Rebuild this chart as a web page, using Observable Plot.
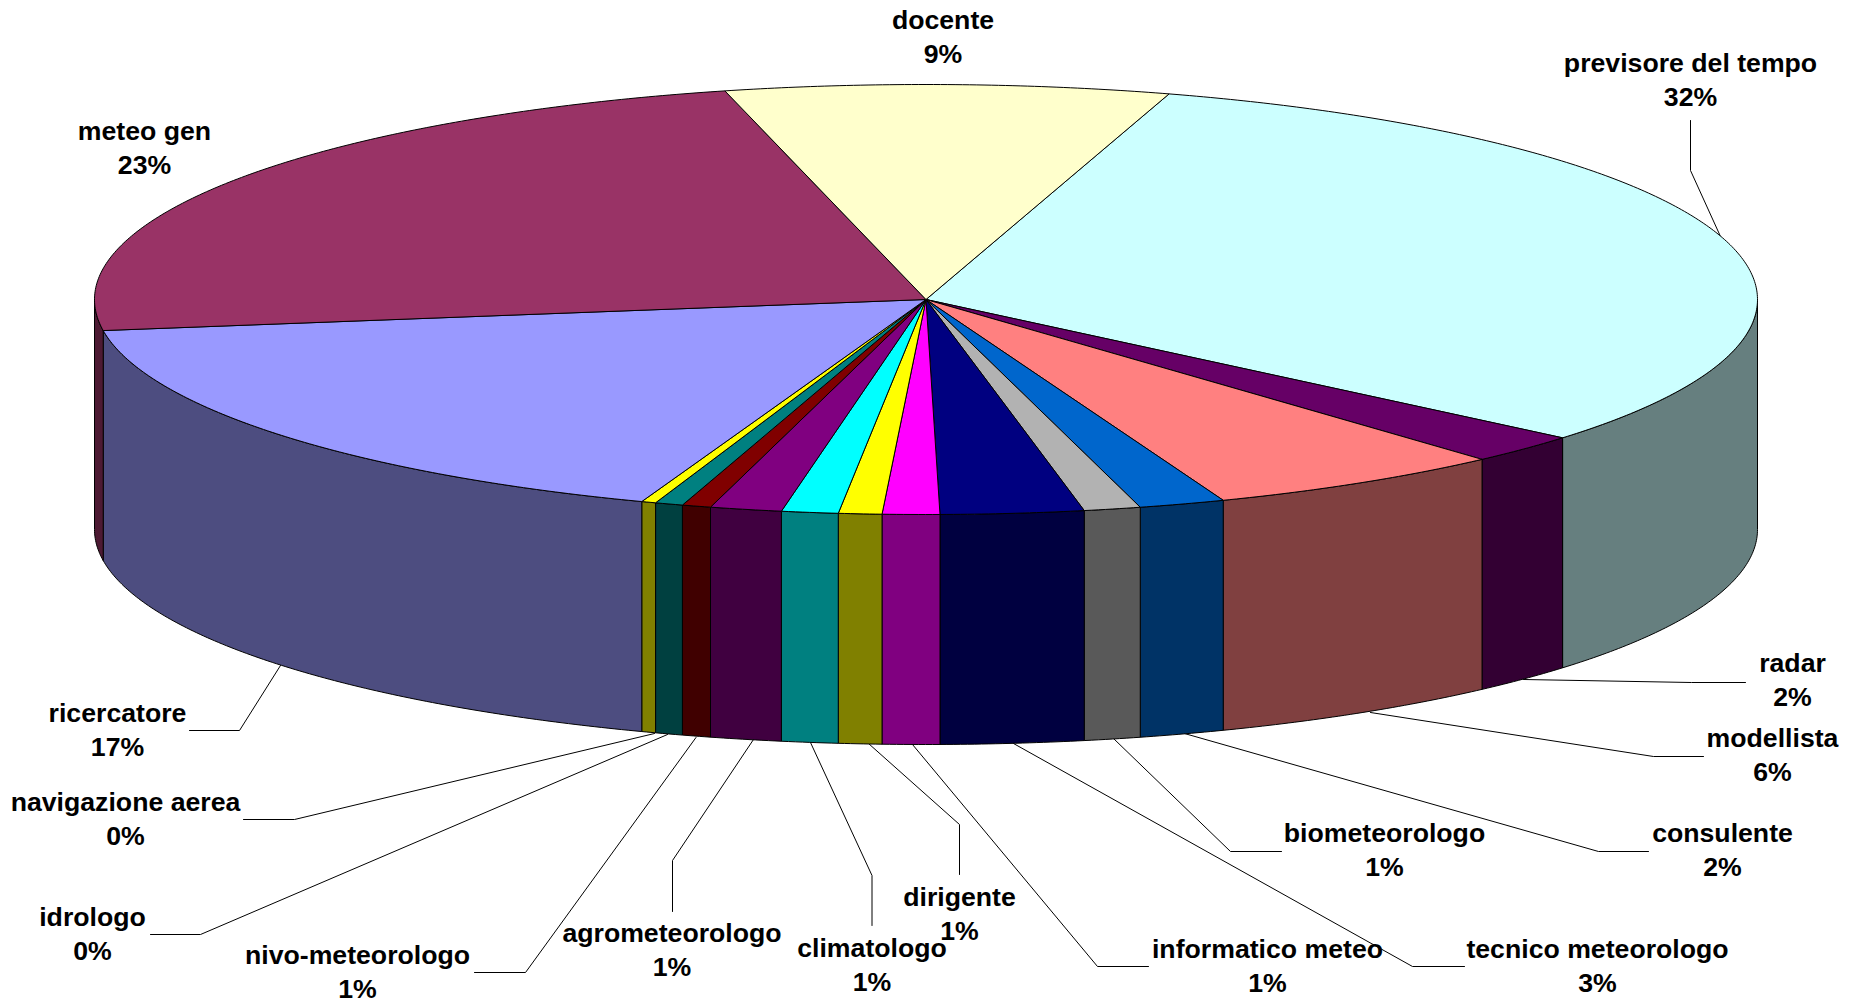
<!DOCTYPE html>
<html>
<head>
<meta charset="utf-8">
<script src="https://cdn.jsdelivr.net/npm/d3@7"></script>
<script src="https://cdn.jsdelivr.net/npm/@observablehq/plot@0.6"></script>
<style>
html,body{margin:0;padding:0;background:#fff;overflow:hidden}
svg{display:block}
</style>
</head>
<body>
<div id="chart"></div>
<script>
// Series, clockwise from the "docente" / "previsore" boundary
const names = ["previsore del tempo","radar","modellista","consulente","biometeorologo","tecnico meteorologo","informatico meteo","dirigente","climatologo","agrometeorologo","nivo-meteorologo","idrologo","navigazione aerea","ricercatore","meteo gen","docente"];
const shares = [31.40,2.22,5.84,1.67,1.10,2.78,1.11,0.84,1.10,1.39,0.56,0.54,0.28,17.14,23.42,8.61];
const printed = [32,2,6,2,1,3,1,1,1,1,1,0,0,17,23,9];
const topColors = ["#CCFFFF","#660066","#FF8080","#0066CC","#B2B2B2","#000080","#FF00FF","#FFFF00","#00FFFF","#800080","#800000","#008080","#FFFF00","#9999FF","#993366","#FFFFCC"];
const sideColors = ["#667F7F","#330033","#804040","#003366","#595959","#000040","#800080","#808000","#008080","#400040","#400000","#004040","#808000","#4D4D80","#4D1A33","#80805F"];

// Pie geometry (in the page's coordinate system)
const W = 1854, H = 1001;
const pie = {cx: 925.5, cy: 299, rx: 831.5, ry: 215, depth: 230, start: 17};

// Label placement: centre of each two-line label, and its leader polyline
const labelAt = {
  "docente":[942.5,35], "previsore del tempo":[1690,78], "meteo gen":[144,146],
  "radar":[1792,678], "modellista":[1772,753], "consulente":[1722,848],
  "biometeorologo":[1384,848], "tecnico meteorologo":[1597,964], "informatico meteo":[1267,964],
  "dirigente":[959,912], "climatologo":[871.5,963], "agrometeorologo":[671.5,948],
  "nivo-meteorologo":[357,970], "idrologo":[92,932], "navigazione aerea":[125,817], "ricercatore":[117,728]
};
const leaders = {
  "previsore del tempo":[[1690,120],[1690,170],[1720,236]],
  "radar":[[1745,682],[1691,682],[1523,679]],
  "modellista":[[1703,756],[1653,756],[1370,712]],
  "consulente":[[1648,851],[1598,851],[1184,733]],
  "biometeorologo":[[1281,851],[1230,851],[1113,738]],
  "tecnico meteorologo":[[1464,966],[1412,966],[1013,743]],
  "informatico meteo":[[1148,966],[1097,966],[912,744]],
  "dirigente":[[959,874],[959,824],[868,743]],
  "climatologo":[[871.5,925],[871.5,875],[810,742]],
  "agrometeorologo":[[672,911],[672,860],[753,739]],
  "nivo-meteorologo":[[474,972],[525,972],[695.5,737]],
  "idrologo":[[150,934],[200,934],[667,734]],
  "navigazione aerea":[[243,819],[294,819],[654,733]],
  "ricercatore":[[189,730],[239,730],[280,665]]
};

// Derived from the shares: angles clockwise from the top of the ellipse
const total = d3.sum(shares);
let acc = pie.start;
const slices = names.map((name,i)=>{
  const a0 = acc, a1 = acc + shares[i]/total*360;
  acc = a1;
  return {name, a0, a1, top: topColors[i], side: sideColors[i]};
});
const rad = d=>d*Math.PI/180;
const ex = a=>pie.cx + pie.rx*Math.sin(rad(a));
const ey = a=>pie.cy - pie.ry*Math.cos(rad(a));
function arc(a0,a1){
  const n = Math.max(2,Math.ceil(Math.abs(a1-a0)/0.5));
  return d3.range(n+1).map(k=>{const a=a0+(a1-a0)*k/n; return [ex(a),ey(a)];});
}

const topPolys = [], sidePolys = [];
for (const s of slices){
  const pts = [[pie.cx,pie.cy],...arc(s.a0,s.a1),[pie.cx,pie.cy]];
  pts.forEach(p=>topPolys.push({id:s.name,x:p[0],y:p[1],fill:s.top}));
  // the wall shows only on the front half of the ellipse
  const lo = Math.max(s.a0,90), hi = Math.min(s.a1,270);
  if (hi>lo){
    const upper = arc(lo,hi);
    const lower = arc(hi,lo).map(p=>[p[0],p[1]+pie.depth]);
    [...upper,...lower,upper[0]].forEach(p=>sidePolys.push({id:s.name,x:p[0],y:p[1],fill:s.side}));
  }
}
const leaderRows = Object.entries(leaders).flatMap(([id,pts])=>pts.map(p=>({id,x:p[0],y:p[1]})));
const labelRows = names.map((n,i)=>({x:labelAt[n][0],y:labelAt[n][1],text:`${n}\n${printed[i]}%`}));

const chart = Plot.plot({
  width:W, height:H, margin:0,
  x:{domain:[0,W],range:[0,W],axis:null},
  y:{domain:[0,H],range:[0,H],axis:null},
  color:{type:"identity"},
  style:{background:"#fff",overflow:"visible"},
  marks:[
    Plot.line(leaderRows,{x:"x",y:"y",z:"id",stroke:"#000",strokeWidth:1,fill:"none",curve:"linear"}),
    Plot.line(sidePolys,{x:"x",y:"y",z:"id",fill:"fill",stroke:"#000",strokeWidth:1,curve:"linear",strokeLinejoin:"round"}),
    Plot.line(topPolys,{x:"x",y:"y",z:"id",fill:"fill",stroke:"#000",strokeWidth:1,curve:"linear",strokeLinejoin:"round"}),
    Plot.text(labelRows,{x:"x",y:"y",text:"text",textAnchor:"middle",lineAnchor:"middle",lineHeight:1.27,
      fontFamily:"'Liberation Sans',Arial,sans-serif",fontWeight:"bold",fontSize:26.67,fill:"#000"})
  ]
});
document.getElementById("chart").appendChild(chart);
</script>
</body>
</html>
